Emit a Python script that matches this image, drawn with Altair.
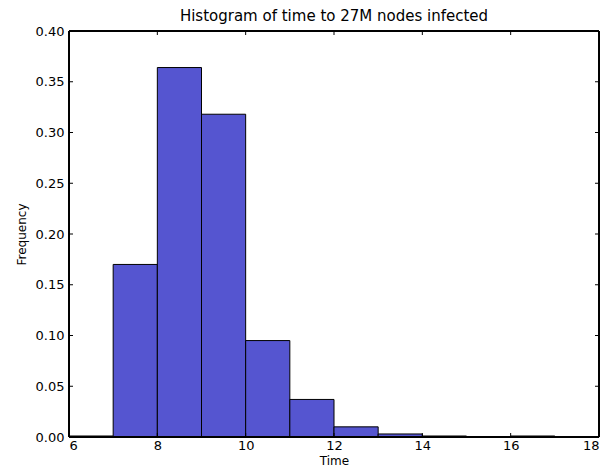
import altair as alt
import pandas as pd

bin_start = [6, 7, 8, 9, 10, 11, 12, 13, 14, 15, 16]
bin_end = [7, 8, 9, 10, 11, 12, 13, 14, 15, 16, 17]
freq = [0.001, 0.170, 0.364, 0.318, 0.095, 0.037, 0.010, 0.003, 0.001, 0.0, 0.001]

x_ticks = [6, 8, 10, 12, 14, 16, 18]
y_ticks = [0.0, 0.05, 0.10, 0.15, 0.20, 0.25, 0.30, 0.35, 0.40]

W, H = 530, 406
FONT = "DejaVu Sans"

bars_df = pd.DataFrame({"start": bin_start, "end": bin_end, "freq": freq})
xt_df = pd.DataFrame({"t": x_ticks})
yt_df = pd.DataFrame({"t": y_ticks})

xscale = alt.Scale(domain=[6, 18], nice=False, zero=False)
yscale = alt.Scale(domain=[0, 0.40], nice=False)

bars = alt.Chart(bars_df).mark_bar(
    color="#5555d0", stroke="black", strokeWidth=1, opacity=1
).encode(
    x=alt.X("start:Q", scale=xscale,
            axis=alt.Axis(values=x_ticks, format="d", title="Time", tickSize=0,
                          domain=False, grid=False, labelPadding=2,
                          labelFontSize=13, labelColor="black", labelFont=FONT,
                          titleFont=FONT, titleFontSize=12, titleFontWeight="normal",
                          titleColor="black", titlePadding=3)),
    x2="end:Q",
    y=alt.Y("freq:Q", scale=yscale,
            axis=alt.Axis(values=y_ticks, format=".2f", title="Frequency", tickSize=0,
                          domain=False, grid=False, labelPadding=5,
                          labelFontSize=13, labelColor="black", labelFont=FONT,
                          titleFont=FONT, titleFontSize=12, titleFontWeight="normal",
                          titleColor="black", titlePadding=7)),
    y2=alt.datum(0),
)

tick_style = dict(color="black", strokeWidth=1)
xb = alt.Chart(xt_df).mark_rule(**tick_style).encode(
    x=alt.X("t:Q", scale=xscale), y=alt.value(H), y2=alt.value(H - 4))
xtp = alt.Chart(xt_df).mark_rule(**tick_style).encode(
    x=alt.X("t:Q", scale=xscale), y=alt.value(0), y2=alt.value(4))
yl = alt.Chart(yt_df).mark_rule(**tick_style).encode(
    y=alt.Y("t:Q", scale=yscale), x=alt.value(0), x2=alt.value(4))
yr = alt.Chart(yt_df).mark_rule(**tick_style).encode(
    y=alt.Y("t:Q", scale=yscale), x=alt.value(W), x2=alt.value(W - 4))

frame_top = alt.Chart(xt_df).mark_rule(**tick_style).encode(
    x=alt.value(0), x2=alt.value(W), y=alt.value(0))
frame_bot = alt.Chart(xt_df).mark_rule(**tick_style).encode(
    x=alt.value(0), x2=alt.value(W), y=alt.value(H))
frame_l = alt.Chart(xt_df).mark_rule(**tick_style).encode(
    x=alt.value(0), y=alt.value(0), y2=alt.value(H))
frame_r = alt.Chart(xt_df).mark_rule(**tick_style).encode(
    x=alt.value(W), y=alt.value(0), y2=alt.value(H))

chart = alt.layer(bars, xb, xtp, yl, yr, frame_top, frame_bot, frame_l, frame_r).properties(
    width=W, height=H,
    padding={"left": 7, "top": 1, "right": 5, "bottom": 0},
    title=alt.Title("Histogram of time to 27M nodes infected", font=FONT,
                    fontSize=15, fontWeight="normal", color="black", offset=1),
).configure_view(stroke=None).configure(background="white")

chart.save("out.html", embed_options={"renderer": "svg", "actions": False})
